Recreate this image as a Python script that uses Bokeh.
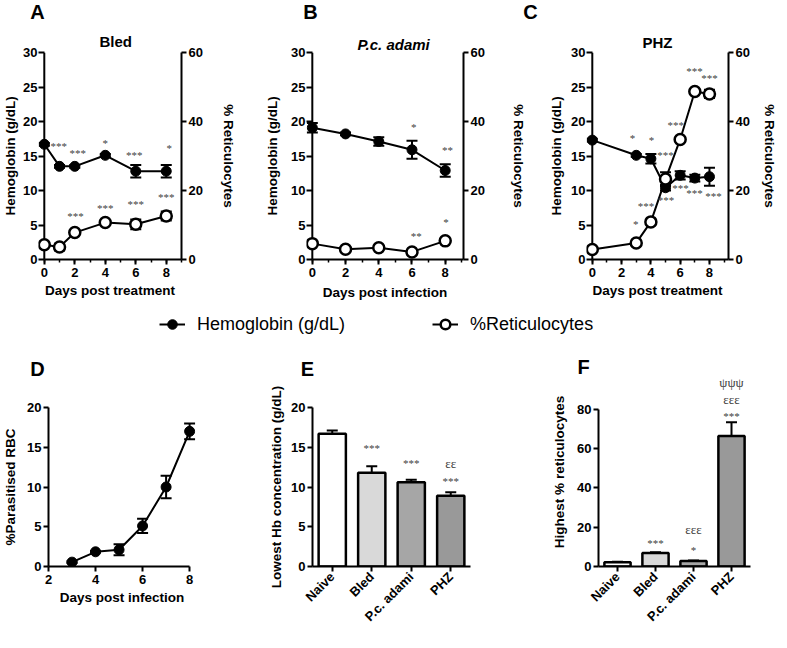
from math import pi
from bokeh.plotting import figure
from bokeh.models import (ColumnDataSource, Range1d, LinearAxis, Whisker, TeeHead, Label, Span,
                          FixedTicker, SingleIntervalTicker, Legend, LegendItem, FactorRange, LabelSet)
from bokeh.layouts import column, row
from bokeh.embed import file_html
from bokeh.resources import INLINE

FONT = "Liberation Sans"
NAN = float("nan")

# ---------------- data ----------------
# Panel A (Bled)
days_A = [0, 1, 2, 4, 6, 8]
hb_A = [16.7, 13.5, 13.5, 15.1, 12.8, 12.8]
hb_A_err = [0.2, 0.2, 0.2, 0.2, 0.9, 0.9]
ret_A = [4.3, 3.6, 7.8, 10.7, 10.2, 12.6]
ret_A_err = [0.4, 1.0, 0.4, 0.4, 1.4, 1.3]
ann_A_x = [0.95, 2.2, 4.0, 5.9, 8.2, 2.05, 4.0, 6.0, 8.0]
ann_A_y = [16.4, 15.4, 16.9, 15.2, 16.2, 6.3, 7.4, 8.1, 9.0]
ann_A_t = ["***", "***", "*", "***", "*", "***", "***", "***", "***"]

# Panel B (P.c. adami)
days_B = [0, 2, 4, 6, 8]
hb_B = [19.1, 18.2, 17.1, 15.9, 12.9]
hb_B_err = [0.7, 0.2, 0.6, 1.3, 0.9]
ret_B = [4.6, 3.0, 3.4, 2.2, 5.4]
ret_B_err = [0.3, 0.3, 0.3, 0.3, 0.4]
ann_B_x = [6.1, 8.14, 6.25, 8.04]
ann_B_y = [19.15, 15.8, 3.46, 5.4]
ann_B_t = ["*", "**", "**", "*"]

# Panel C (PHZ)
days_C = [0, 3, 4, 5, 6, 7, 8]
hb_C = [17.3, 15.1, 14.6, 10.4, 12.2, 11.8, 12.0]
hb_C_err = [0.2, 0.2, 0.7, 0.4, 0.6, 0.5, 1.3]
ret_C = [2.9, 4.8, 10.9, 23.3, 34.8, 48.7, 48.0]
ret_C_err = [0.3, 0.3, 0.5, 2.0, 0.5, 0.5, 1.2]
ann_C_x = [2.74, 4.05, 5.0, 5.7, 6.97, 8.0, 6.03, 6.97, 8.28, 5.04, 3.66, 2.96]
ann_C_y = [17.6, 17.25, 15.2, 19.45, 27.3, 26.25, 10.3, 9.7, 9.2, 8.67, 7.73, 5.15]
ann_C_t = ["*", "*", "***", "***", "***", "***", "***", "***", "***", "***", "***", "*"]

# Panel D (parasitaemia)
days_D = [3, 4, 5, 6, 7, 8]
par_D = [0.55, 1.85, 2.1, 5.1, 10.0, 17.0]
par_D_err = [0.1, 0.1, 0.7, 0.9, 1.4, 1.0]

# Panels E / F
groups = ["Naive", "Bled", "P.c. adami", "PHZ"]
bar_colors = ["#ffffff", "#d9d9d9", "#a6a6a6", "#999999"]
hb_low = [16.7, 11.8, 10.6, 8.9]
hb_low_err = [0.4, 0.8, 0.3, 0.45]
ann_E_x = ["Bled", "P.c. adami", "PHZ", "PHZ"]
ann_E_y = [14.9, 13.0, 12.9, 10.7]
ann_E_t = ["***", "***", "εε", "***"]
ret_high = [2.2, 6.9, 2.8, 66.3]
ret_high_err = [0.2, 0.3, 0.3, 7.0]
ann_F_x = ["Bled", "P.c. adami", "P.c. adami", "PHZ", "PHZ", "PHZ"]
ann_F_y = [12.0, 18.8, 8.2, 76.6, 84.8, 93.5]
ann_F_t = ["***", "εεε", "*", "***", "εεε", "ψψψ"]


# ---------------- helpers ----------------
def style_axis(ax, label_standoff=3, tick_standoff=2, tick_out=5, tick_in=0):
    ax.axis_line_width = 2
    ax.axis_line_color = "black"
    ax.major_tick_line_width = 2
    ax.major_tick_line_color = "black"
    ax.major_tick_out = tick_out
    ax.major_tick_in = tick_in
    ax.minor_tick_line_width = 1.5
    ax.minor_tick_line_color = "black"
    ax.minor_tick_out = 3
    ax.minor_tick_in = 0
    ax.major_label_text_font = FONT
    ax.major_label_text_font_style = "bold"
    ax.major_label_text_font_size = "13px"
    ax.major_label_text_color = "black"
    ax.major_label_standoff = tick_standoff
    ax.axis_label_text_font = FONT
    ax.axis_label_text_font_style = "bold"
    ax.axis_label_text_font_size = "13.5px"
    ax.axis_label_text_color = "black"
    ax.axis_label_standoff = label_standoff


def base_fig(W, H, bl, br, bt, bb, x_range, y_range, with_title=True):
    kw = {} if with_title else {"title": None}
    p = figure(width=W, height=H, x_range=x_range, y_range=y_range,
               min_border_left=bl, min_border_right=br, min_border_top=bt, min_border_bottom=bb,
               output_backend="svg", toolbar_location=None, tools="", **kw)
    p.outline_line_color = None
    p.xgrid.visible = False
    p.ygrid.visible = False
    p.background_fill_color = "white"
    p.border_fill_color = "white"
    return p


def strip_fig(W, H):
    s = figure(width=W, height=H, x_range=Range1d(0, 1), y_range=Range1d(0, 1), min_border=0,
               x_axis_type=None, y_axis_type=None, output_backend="svg", title=None,
               toolbar_location=None, tools="")
    s.outline_line_color = None
    s.border_fill_color = "white"
    return s


def letter(p, text, x, y, baseline="top", size="20px"):
    p.add_layout(Label(x=x, y=y, x_units="screen", y_units="screen", text=text,
                       text_font=FONT, text_font_style="bold", text_font_size=size,
                       text_align="center", text_baseline=baseline, text_color="black"))


def set_title(p, text, offset, standoff, size="15px", style="bold"):
    p.title.text = text
    p.title.align = "left"
    p.title.offset = offset
    p.title.standoff = standoff
    p.title.vertical_align = "bottom"
    p.title.text_font = FONT
    p.title.text_font_style = style
    p.title.text_font_size = size
    p.title.text_color = "black"


def add_annotations(p, xs, ys, ts):
    sizes = ["13px" if t[0] in "εψ" else "11px" for t in ts]
    src = ColumnDataSource(dict(x=xs, y=ys, t=ts, s=sizes))
    p.add_layout(LabelSet(x="x", y="y", text="t", source=src, text_font=FONT,
                          text_font_size="s", text_align="center", text_baseline="middle",
                          text_color="#404040"))


def err_bars(p, xs, ys, errs, y_range_name="default"):
    lo = [v - e for v, e in zip(ys, errs)]
    hi = [v + e for v, e in zip(ys, errs)]
    src = ColumnDataSource(dict(x=xs, lo=lo, hi=hi))
    p.add_layout(Whisker(source=src, base="x", lower="lo", upper="hi", line_width=2,
                         line_color="black", level="underlay",
                         upper_head=TeeHead(size=11, line_width=2, line_color="black"),
                         lower_head=TeeHead(size=11, line_width=2, line_color="black"),
                         y_range_name=y_range_name))


def line_panel(W, H, bl, br, bt, bb, x_start, x_end, days, hb, hb_err, ret, ret_err,
               xlab, right_standoff, left_standoff, bottom_standoff=3):
    p = base_fig(W, H, bl, br, bt, bb, Range1d(x_start, x_end), Range1d(0, 30))
    p.extra_y_ranges = {"ret": Range1d(0, 60)}
    rax = LinearAxis(y_range_name="ret", ticker=FixedTicker(ticks=[0, 20, 40, 60]),
                     axis_label="% Reticulocytes")
    style_axis(rax, label_standoff=right_standoff)
    p.add_layout(rax, "right")
    lax = p.left[0]
    lax.ticker = SingleIntervalTicker(interval=5, num_minor_ticks=0)
    lax.axis_label = "Hemoglobin (g/dL)"
    style_axis(lax, label_standoff=left_standoff, tick_standoff=1, tick_out=0, tick_in=6)
    lax.axis_line_color = None
    p.add_layout(Span(location=0, dimension="height", line_color="black", line_width=2,
                      level="underlay"))
    bax = p.below[0]
    bax.ticker = SingleIntervalTicker(interval=2, num_minor_ticks=2)
    bax.bounds = (0, x_end)
    bax.axis_label = xlab
    style_axis(bax, label_standoff=bottom_standoff, tick_standoff=3)

    err_bars(p, days, hb, hb_err)
    err_bars(p, days, ret, ret_err, y_range_name="ret")
    p.line(days, hb, line_color="black", line_width=2)
    p.scatter(days, hb, marker="circle", size=10, fill_color="black", line_color="black")
    p.line(days, ret, line_color="black", line_width=2, y_range_name="ret")
    p.scatter(days, ret, marker="circle", size=11, fill_color="white", line_color="black",
              line_width=2.5, y_range_name="ret")
    return p


def bar_panel(W, H, bl, br, bt, bb, vals, errs, y_top, y_axis_end, interval, ylab, standoff,
              with_title=False):
    p = base_fig(W, H, bl, br, bt, bb, FactorRange(*groups), Range1d(0, y_top),
                 with_title=with_title)
    src = ColumnDataSource(dict(g=groups, v=vals, hi=[v + e for v, e in zip(vals, errs)],
                                c=bar_colors))
    p.add_layout(Whisker(source=src, base="g", lower="v", upper="hi", line_width=2,
                         line_color="black", lower_head=None, level="underlay",
                         upper_head=TeeHead(size=11, line_width=2, line_color="black")))
    p.vbar(x="g", top="v", width=0.69, fill_color="c", line_color="black", line_width=2.5,
           source=src)
    lax = p.left[0]
    lax.ticker = SingleIntervalTicker(interval=interval, num_minor_ticks=0)
    lax.bounds = (0, y_axis_end)
    lax.axis_label = ylab
    style_axis(lax, label_standoff=standoff)
    bax = p.below[0]
    style_axis(bax, tick_standoff=3)
    bax.major_label_orientation = pi / 4
    return p


# ---------------- top strip with panel letters A-C ----------------
top = strip_fig(771, 23)
letter(top, "A", 37, 22.5)
letter(top, "B", 310, 22.5)
letter(top, "C", 530, 22.5)

# ---------------- row 1 ----------------
pA = line_panel(254, 287, 33, 73, 29, 48, -0.380, 9.0, days_A, hb_A, hb_A_err, ret_A, ret_A_err,
                "Days post treatment", right_standoff=15, left_standoff=2)
add_annotations(pA, ann_A_x, ann_A_y, ann_A_t)
set_title(pA, "Bled", 61, 5)

pB = line_panel(274, 287, 52, 60, 19, 51, -0.35, 9.1, days_B, hb_B, hb_B_err, ret_B, ret_B_err,
                "Days post infection", right_standoff=23, left_standoff=8, bottom_standoff=5)
add_annotations(pB, ann_B_x, ann_B_y, ann_B_t)
set_title(pB, "P.c. adami", 51, 0, style="bold italic")

pC = line_panel(251, 287, 58, 46, 22, 51, -0.396, 9.3, days_C, hb_C, hb_C_err, ret_C, ret_C_err,
                "Days post treatment", right_standoff=9, left_standoff=4)
add_annotations(pC, ann_C_x, ann_C_y, ann_C_t)
set_title(pC, "PHZ", 56, 3)

# ---------------- legend strip ----------------
pL = strip_fig(771, 28)
l1 = pL.line(x=[NAN], y=[NAN], line_color="black", line_width=2)
s1 = pL.scatter(x=[NAN], y=[NAN], marker="circle", size=10, fill_color="black", line_color="black")
l2 = pL.line(x=[NAN], y=[NAN], line_color="black", line_width=2)
s2 = pL.scatter(x=[NAN], y=[NAN], marker="circle", size=11, fill_color="white", line_color="black",
                line_width=2.5)
legend = Legend(items=[LegendItem(label="Hemoglobin (g/dL)", renderers=[l1, s1]),
                       LegendItem(label="%Reticulocytes", renderers=[l2, s2])],
                orientation="horizontal", location=(159, 2), glyph_width=26, glyph_height=24,
                label_standoff=12, spacing=87, padding=0, margin=0,
                border_line_color=None, background_fill_alpha=0,
                label_text_font=FONT, label_text_font_size="18px", label_text_color="black")
pL.add_layout(legend, "center")

# ---------------- row 2 ----------------
stripDE = strip_fig(512, 46)
letter(stripDE, "D", 37, 27)
letter(stripDE, "E", 307, 27)

pD = base_fig(247, 248, 43, 52, 23, 57, Range1d(2, 8.25), Range1d(0, 20), with_title=False)
dax = pD.below[0]
dax.ticker = SingleIntervalTicker(interval=2, num_minor_ticks=0)
dax.bounds = (2, 8)
dax.axis_label = "Days post infection"
style_axis(dax, label_standoff=3, tick_standoff=3)
dlx = pD.left[0]
dlx.ticker = SingleIntervalTicker(interval=5, num_minor_ticks=0)
dlx.axis_label = "%Parasitised RBC"
style_axis(dlx, label_standoff=6)
err_bars(pD, days_D, par_D, par_D_err)
pD.line(days_D, par_D, line_color="black", line_width=2)
pD.scatter(days_D, par_D, marker="circle", size=10, fill_color="black", line_color="black")

pE = bar_panel(265, 248, 65, 42, 23, 57, hb_low, hb_low_err, 20, 20, 5,
               "Lowest Hb concentration (g/dL)", 4)
add_annotations(pE, ann_E_x, ann_E_y, ann_E_t)

pF = bar_panel(259, 294, 86, 21, 39, 56, ret_high, ret_high_err, 96, 80, 20,
               "Highest % reticulocytes", 7, with_title=True)
add_annotations(pF, ann_F_x, ann_F_y, ann_F_t)
set_title(pF, "F", -21, 0, size="20px")

layout = column(top, row(pA, pB, pC), pL,
                row(column(stripDE, row(pD, pE)), pF))
open("out.html", "w").write(file_html(layout, INLINE))
